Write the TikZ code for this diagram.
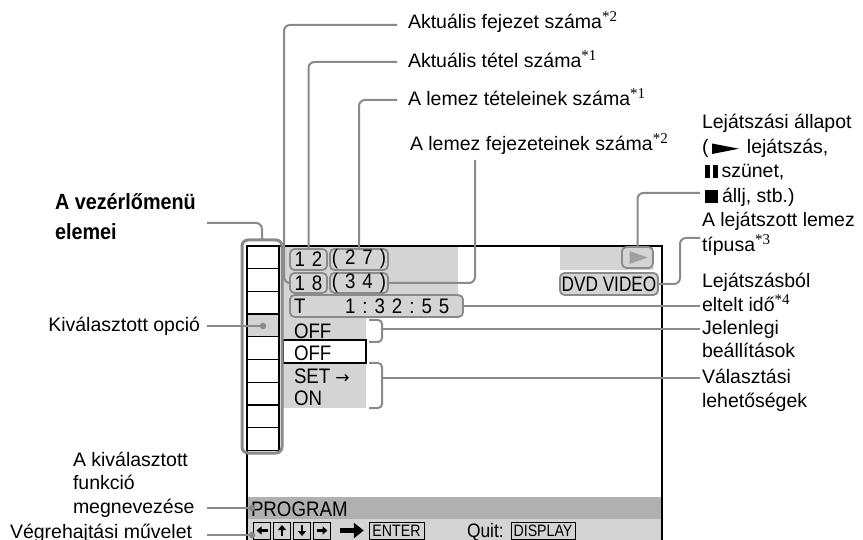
\documentclass[tikz,border=0pt]{standalone}
\usepackage{fontspec}
\setmainfont{Liberation Sans}
\newfontfamily\serfont{Liberation Serif}
\newfontfamily\dvfont{DejaVu Sans}
\newfontfamily\condfont[FakeStretch=0.9]{Liberation Sans}
\newfontfamily\narrowfont[FakeStretch=0.86]{Liberation Sans}
\newfontfamily\scrfont[FakeStretch=0.89]{Liberation Sans}
\newfontfamily\dvdfont[FakeStretch=0.82]{Liberation Sans}
\usetikzlibrary{arrows.meta,calc}
\definecolor{conn}{RGB}{138,138,140}
\definecolor{lgray}{RGB}{212,212,212}
\definecolor{mgray}{RGB}{176,176,178}
\definecolor{tgray}{RGB}{160,160,162}
\newcommand\fnote[1]{\raisebox{7.5pt}{\fontsize{15}{15}\selectfont\serfont *#1}}
\begin{document}
\begin{tikzpicture}[x=1pt,y=-1pt,
  lbl/.style={inner sep=0pt, outer sep=0pt, anchor=west, font=\fontsize{19.5}{24}\selectfont, text height=12pt, text depth=0pt},
  lblr/.style={lbl, anchor=east},
  conn/.style={draw=conn, line width=2pt, rounded corners=6pt},
  rbox/.style={draw=conn, line width=1.8pt, rounded corners=4.5pt, fill=lgray, inner sep=0pt, outer sep=0pt, font=\scrfont\fontsize{21}{21}\selectfont},
  scr/.style={inner sep=0pt, outer sep=0pt, anchor=west, font=\scrfont\fontsize{21}{22}\selectfont, text height=14pt, text depth=0pt},
  key/.style={draw=black, line width=0.9pt, inner sep=0pt, outer sep=0pt, font=\narrowfont\fontsize{16.5}{16.5}\selectfont},
  keyarr/.style={line width=2.3pt, -{Triangle[length=5pt,width=8pt]}},
  dot/.style={circle, fill=conn, inner sep=0pt, minimum size=6.5pt},
]
\useasboundingbox (0,0) rectangle (863,540);

% ---------- screen fills ----------
\fill[lgray] (283,246) rectangle (458,314);
\fill[lgray] (560,246) rectangle (653,270);
\fill[lgray] (283,314) rectangle (366,340);
\fill[lgray] (283,363) rectangle (366,408);
\fill[mgray] (247,497) rectangle (662,519);
\fill[lgray] (247,519) rectangle (662,540);
\draw[black,line width=1.2pt,fill=white] (283,340) rectangle (366,363);

% ---------- screen frame ----------
\draw[black,line width=1.5pt] (247,540) -- (247,246) -- (662,246) -- (662,540);

% ---------- menu column ----------
\fill[lgray] (247,314.1) rectangle (279,336.8);
\foreach \i in {0,...,9} \draw[black,line width=1.2pt] (247,246+22.7*\i) -- (279,246+22.7*\i);
\draw[black,line width=1.2pt] (247,246) -- (247,450.3) (279,246) -- (279,450.3);
\node[draw=conn, line width=3pt, rounded corners=6pt, minimum width=40pt, minimum height=213pt, inner sep=0pt, outer sep=0pt] (colbox) at (262,346.5) {};
\node[dot] (dsel) at (263,326) {};

% ---------- screen boxes ----------
\node[rbox, minimum width=37pt, minimum height=21pt] (b12) at (308.5,259.5) {1\hspace{7pt}2};
\node[rbox, minimum width=58pt, minimum height=21pt] (b27) at (359,259.5) {(\hspace{7pt}2\hspace{7pt}7\hspace{7pt})};
\node[rbox, minimum width=37pt, minimum height=20pt] (b18) at (308.5,283) {1\hspace{7pt}8};
\node[rbox, minimum width=58pt, minimum height=20pt] (b34) at (359,283) {(\hspace{7pt}3\hspace{7pt}4\hspace{7pt})};
\node[rbox, minimum width=173pt, minimum height=22pt] (bT) at (376.5,306) {};
\node[scr] (tT) at (294,306.5) {T};
\node[scr] (tTime) at (345,306.5) {1\hspace{7pt}:\hspace{7pt}3\hspace{7pt}2\hspace{7pt}:\hspace{7pt}5\hspace{7pt}5};
\node[rbox, minimum width=31pt, minimum height=21pt] (bplay) at (637.5,257.5) {};
\fill[tgray] ($(bplay.center)+(-8,-6.5)$) -- ($(bplay.center)+(-8,6.5)$) -- ($(bplay.center)+(10,0)$) -- cycle;
\node[rbox, minimum width=98pt, minimum height=22pt, font=\dvdfont\fontsize{21}{21}\selectfont] (bdvd) at (609,284) {DVD VIDEO};

\node[scr] (off1) at (294,331) {OFF};
\node[scr] (off2) at (294,353) {OFF};
\node[scr] (set) at (294,376) {SET\hspace{5pt}{\dvfont\fontsize{17}{17}\selectfont →}};
\node[scr] (on) at (294,399) {ON};

% brackets
\draw[conn, rounded corners=4pt] (369,320) -- (382,320) -- (382,342) -- (369,342);
\coordinate (br1) at (382,329);
\draw[conn, rounded corners=4pt] (369,363) -- (382,363) -- (382,408) -- (369,408);
\coordinate (br2) at (382,378);

% bottom bars
\node[scr] (prog) at (251,509) {PROGRAM};
\node[key, minimum width=17.5pt, minimum height=17pt] (k1) at (262,530.5) {};
\node[key, minimum width=17.5pt, minimum height=17pt] (k2) at (282,530.5) {};
\node[key, minimum width=17.5pt, minimum height=17pt] (k3) at (302,530.5) {};
\node[key, minimum width=17.5pt, minimum height=17pt] (k4) at (322,530.5) {};
\draw[keyarr] ($(k1.center)+(5.5,0)$) -- ($(k1.center)+(-5.5,0)$);
\draw[keyarr] ($(k2.center)+(0,5.5)$) -- ($(k2.center)+(0,-5.5)$);
\draw[keyarr] ($(k3.center)+(0,-5.5)$) -- ($(k3.center)+(0,5.5)$);
\draw[keyarr] ($(k4.center)+(-5.5,0)$) -- ($(k4.center)+(5.5,0)$);
\draw[line width=4.5pt, -{Triangle[length=10pt,width=15pt]}] ($(k4.east)+(9,0)$) -- ($(k4.east)+(33,0)$);
\node[key, minimum width=55pt, minimum height=17pt] (enter) at (396.5,530.5) {ENTER};
\node[scr, font=\scrfont\fontsize{19.5}{20}\selectfont, text height=13pt] (quit) at (467,530.5) {Quit:};
\node[key, minimum width=64pt, minimum height=17pt] (disp) at (543,530.5) {DISPLAY};
\node[dot] (dprog) at (252,508) {};
\node[dot] (dexec) at (252,535) {};

% ---------- top labels ----------
\node[lbl] (L1) at (408,23) {Aktuális fejezet száma\fnote{2}};
\node[lbl] (L2) at (408,62) {Aktuális tétel száma\fnote{1}};
\node[lbl] (L3) at (408,100) {A lemez tételeinek száma\fnote{1}};
\node[lbl] (L4) at (410,145) {A lemez fejezeteinek száma\fnote{2}};
\coordinate (c1) at (397,25);
\coordinate (c2) at (397,62);
\coordinate (c3) at (397,100);
\coordinate (c4) at (475,160);
\draw[conn] (c1) -| ([xshift=-6pt]b18.west) -- (b18.west);
\draw[conn] (c2) -| (b12.north);
\draw[conn] (c3) -| (b27.north);
\draw[conn] (c4) |- (b34.east);

% ---------- right labels ----------
\node[lbl] (R1) at (702,123) {Lejátszási állapot};
\node[lbl] (R2) at (702,148) {(\hspace{38.5pt}lejátszás,};
\fill[black] ($(R2.west)+(10,-4.5)$) -- ($(R2.west)+(10,6)$) -- ($(R2.west)+(37,0.75)$) -- cycle;
\node[lbl] (R3) at (705,172) {\rule{5pt}{12.5pt}\hspace{2.5pt}\rule{5pt}{12.5pt}\hspace{4pt}szünet,};
\node[lbl] (R4) at (705,197) {\rule{13pt}{13pt}\hspace{4pt}állj, stb.)};
\node[lbl] (R5) at (702,221) {A lejátszott lemez};
\node[lbl] (R6) at (702,246) {típusa\fnote{3}};
\node[lbl] (R7) at (702,282) {Lejátszásból};
\node[lbl] (R8) at (702,306) {eltelt idő\fnote{4}};
\node[lbl] (R9) at (702,329) {Jelenlegi};
\node[lbl] (R10) at (702,352) {beállítások};
\node[lbl] (R11) at (702,378) {Választási};
\node[lbl] (R12) at (702,401) {lehetőségek};
\coordinate (c5) at (700,193);
\coordinate (c6) at (700,238);
\draw[conn] (c5) -| (bplay.north);
\draw[conn] (c6) -| ([xshift=22pt]bdvd.east) -- (bdvd.east);
\draw[conn] (bT.east) -- ([xshift=-2pt]bT.east -| R8.west);
\draw[conn] (br1) -- ([xshift=-2pt]br1 -| R9.west);
\draw[conn] (br2) -- ([xshift=-2pt]br2 -| R11.west);

% ---------- left labels ----------
\node[lbl, font=\condfont\bfseries\fontsize{22}{30}\selectfont, text height=16pt] (V1) at (55,202) {A vezérlőmenü};
\node[lbl, font=\condfont\bfseries\fontsize{22}{30}\selectfont, text height=16pt] (V2) at (55,232) {elemei};
\coordinate (cv) at (207,223);
\draw[conn] (cv) -| (colbox.north);
\node[lblr] (kiv) at (200,325) {Kiválasztott opció};
\coordinate (ck) at (207,326);
\draw[conn] (ck) -- (dsel);
\node[lbl] (fn1) at (73,460) {A kiválasztott};
\node[lbl] (fn2) at (73,483) {funkció};
\node[lbl] (fn3) at (73,507) {megnevezése};
\node[lbl] (veg) at (10,532) {Végrehajtási művelet};
\coordinate (cf) at (207,508);
\coordinate (ce) at (207,535);
\draw[conn] (cf) -- (dprog);
\draw[conn] (ce) -- (dexec);
\end{tikzpicture}
\end{document}
